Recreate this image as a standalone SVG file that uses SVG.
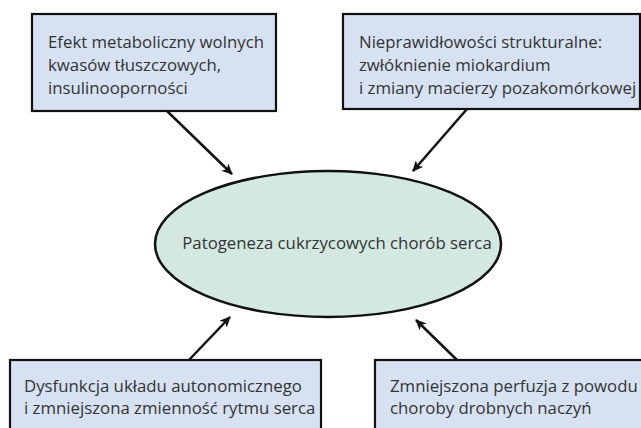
<svg xmlns="http://www.w3.org/2000/svg" width="641" height="428" viewBox="0 0 641 428">
<style>
.box{fill:#d6e2f2;stroke:#111;stroke-width:2.2}
.ell{fill:#d4e8e2;stroke:#111;stroke-width:2.5}
.t{font-family:"Open Sans","Noto Sans",sans-serif;font-size:16.8px;fill:#333}
.c{stroke:#111;stroke-width:2.5;fill:none;marker-end:url(#ah)}
</style>
<defs>
<marker id="ah" markerWidth="12" markerHeight="10" refX="10" refY="5" orient="auto" markerUnits="userSpaceOnUse">
<path d="M0,0 L11,5 L0,10 L3,5 Z" fill="#111"/>
</marker>
</defs>
<rect width="641" height="428" fill="#fff"/>
<g id="n1">
<rect class="box" x="32" y="14" width="244" height="97"/>
<text class="t" x="48" y="48">Efekt metaboliczny wolnych</text>
<text class="t" x="48" y="71">kwasów tłuszczowych,</text>
<text class="t" x="48" y="94">insulinooporności</text>
</g>
<g id="n2">
<rect class="box" x="343" y="14" width="297" height="95"/>
<text class="t" x="359" y="48">Nieprawidłowości strukturalne:</text>
<text class="t" x="359" y="71">zwłóknienie miokardium</text>
<text class="t" x="359" y="94">i zmiany macierzy pozakomórkowej</text>
</g>
<g id="center">
<ellipse class="ell" cx="328" cy="244" rx="173" ry="73"/>
<text class="t" x="337" y="249" text-anchor="middle">Patogeneza cukrzycowych chorób serca</text>
</g>
<g id="n3">
<rect class="box" x="10" y="360" width="311" height="80"/>
<text class="t" x="24" y="392">Dysfunkcja układu autonomicznego</text>
<text class="t" x="24" y="414">i zmniejszona zmienność rytmu serca</text>
</g>
<g id="n4">
<rect class="box" x="375" y="360" width="280" height="80"/>
<text class="t" x="390" y="392">Zmniejszona perfuzja z powodu</text>
<text class="t" x="390" y="414">choroby drobnych naczyń</text>
</g>
<g id="connectors">
<line class="c" x1="167" y1="111" x2="232" y2="174"/>
<line class="c" x1="467" y1="109" x2="413" y2="171"/>
<line class="c" x1="189" y1="360" x2="230" y2="317"/>
<line class="c" x1="457" y1="360" x2="416" y2="320"/>
</g>
</svg>
